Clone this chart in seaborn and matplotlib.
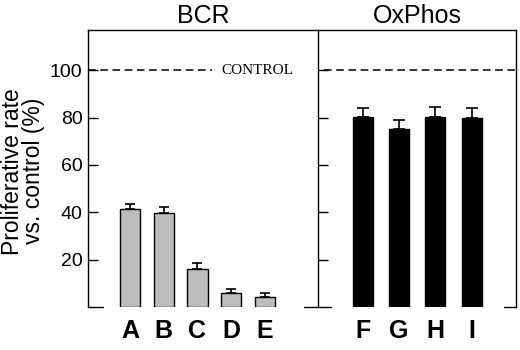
import numpy as np
import matplotlib
matplotlib.use("Agg")
import matplotlib.pyplot as plt
import seaborn as sns

# values
bcr_labels = ["A", "B", "C", "D", "E"]
bcr_values = [41.3, 39.8, 16.2, 5.9, 4.1]
bcr_errors = [2.0, 2.4, 2.5, 1.6, 1.7]

ox_labels = ["F", "G", "H", "I"]
ox_values = [80.3, 75.0, 80.3, 80.0]
ox_errors = [3.8, 3.9, 4.1, 4.1]

control_level = 100
yticks = [20, 40, 60, 80, 100]

sns.set_style("white")
plt.rcParams["font.family"] = ["Liberation Sans", "DejaVu Sans"]
plt.rcParams["text.color"] = "black"
plt.rcParams["xtick.color"] = "black"
plt.rcParams["ytick.color"] = "black"
plt.rcParams["axes.labelcolor"] = "black"

fig = plt.figure(figsize=(5.2, 3.5), dpi=100)
ax1 = fig.add_axes([88 / 520, 1 - 307 / 350, 230 / 520, 277 / 350])
ax2 = fig.add_axes([318 / 520, 1 - 307 / 350, 198 / 520, 277 / 350])

sns.barplot(x=bcr_labels, y=bcr_values, ax=ax1, color="#bdbdbd", saturation=1,
            edgecolor="black", linewidth=1, width=0.6)
ax1.errorbar(np.arange(len(bcr_values)), bcr_values,
             yerr=[np.zeros(len(bcr_errors)), bcr_errors],
             fmt="none", ecolor="black", elinewidth=1.2, capsize=3.5, capthick=1.2)

sns.barplot(x=ox_labels, y=ox_values, ax=ax2, color="black", saturation=1,
            edgecolor="black", linewidth=1, width=0.55)
ax2.errorbar(np.arange(len(ox_values)), ox_values,
             yerr=[np.zeros(len(ox_errors)), ox_errors],
             fmt="none", ecolor="black", elinewidth=1.2, capsize=4, capthick=1.2)

for ax in (ax1, ax2):
    ax.set_ylim(0, 117)
    ax.set_yticks(yticks)
    ax.spines["bottom"].set_visible(False)
    for s in ("top", "left", "right"):
        ax.spines[s].set_color("black")
        ax.spines[s].set_linewidth(1)
    ax.tick_params(axis="x", bottom=False, length=0, pad=9, labelsize=18)
    ax.tick_params(axis="y", left=True, direction="in", length=7, width=1, color="black")
    for lbl in ax.get_xticklabels():
        lbl.set_fontweight("bold")
    ax.set_xlabel("")

ax1.set_xlim(-1.24, 5.57)
ax2.set_xlim(-1.23, 4.22)

ax1.spines["right"].set_visible(False)
ax1.tick_params(axis="y", labelsize=14, pad=4)
ax2.tick_params(axis="y", labelleft=False)

# short base marks at zero
ax1.axhline(0, xmin=0, xmax=0.065, color="black", lw=1, clip_on=False)
ax1.axhline(0, xmin=0.94, xmax=1.0, color="black", lw=1, clip_on=False)
ax2.axhline(0, xmin=0, xmax=0.066, color="black", lw=1, clip_on=False)
ax2.axhline(0, xmin=0.94, xmax=1.0, color="black", lw=1, clip_on=False)

# control lines
ax1.axhline(control_level, xmin=0, xmax=0.54, color="black", lw=1.1, dashes=(5, 3))
ax1.text(0.58, control_level, "CONTROL", transform=ax1.get_yaxis_transform(),
         va="center", ha="left", fontsize=11, family=["Liberation Serif", "DejaVu Serif"])
ax2.axhline(control_level, xmin=0.03, xmax=1.0, color="black", lw=1.1, dashes=(5, 3))

ax1.set_title("BCR", fontsize=18, pad=5)
ax2.set_title("OxPhos", fontsize=18, pad=5)
ax1.set_ylabel("Proliferative rate\nvs. control (%)", fontsize=16.5, linespacing=0.9)
ax1.yaxis.set_label_coords(-0.185, 0.49)

fig.savefig("out.png", dpi=100)
